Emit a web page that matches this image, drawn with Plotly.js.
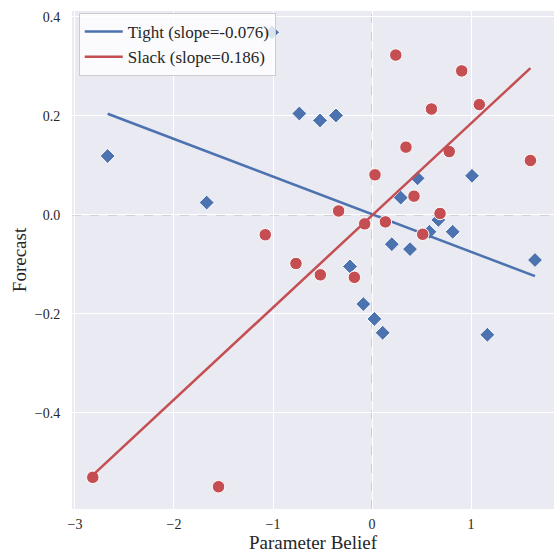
<!DOCTYPE html>
<html>
<head>
<meta charset="utf-8">
<script src="https://cdn.plot.ly/plotly-3.0.1.min.js"></script>
<style>html,body{margin:0;padding:0;background:#fff;}#chart{width:554px;height:554px;}</style>
</head>
<body>
<div id="chart"></div>
<script>
// Tight group
const tightX = [-2.67, -1.67, -1.01, -0.734, -0.525, -0.364, -0.222, -0.088, 0.024, 0.108, 0.20, 0.29, 0.384, 0.46, 0.58, 0.67, 0.815, 1.01, 1.165, 1.646];
const tightY = [0.119, 0.025, 0.369, 0.205, 0.191, 0.201, -0.104, -0.180, -0.210, -0.238, -0.059, 0.035, -0.069, 0.074, -0.034, -0.010, -0.034, 0.079, -0.242, -0.091];
// Slack group
const slackX = [-2.82, -1.55, -1.078, -0.768, -0.522, -0.337, -0.178, -0.074, 0.03, 0.135, 0.24, 0.343, 0.424, 0.512, 0.60, 0.687, 0.78, 0.906, 1.084, 1.60];
const slackY = [-0.530, -0.549, -0.040, -0.098, -0.121, 0.008, -0.126, -0.018, 0.081, -0.014, 0.323, 0.137, 0.038, -0.039, 0.214, 0.003, 0.128, 0.291, 0.223, 0.110];
// Fit parameters
const fitSlope = [-0.076, 0.186];
const fitIntercept = [0.0015, -0.001];
const groupNames = ['Tight', 'Slack'];
const xTicks = [-3, -2, -1, 0, 1];
const yTicks = [-0.4, -0.2, 0.0, 0.2, 0.4];

const colors = ['#4C72B0', '#C44E52'];
const font = 'Liberation Serif, Times New Roman, serif';

function fitLine(xs, i) {
  const lo = Math.min(...xs), hi = Math.max(...xs);
  return {x: [lo, hi], y: [fitIntercept[i] + fitSlope[i]*lo, fitIntercept[i] + fitSlope[i]*hi]};
}

const groups = [[tightX, tightY, 'diamond', 11.5], [slackX, slackY, 'circle', 12.5]];
const traces = [];
groups.forEach((g, i) => {
  traces.push({
    x: g[0], y: g[1], type: 'scatter', mode: 'markers', showlegend: false,
    marker: {symbol: g[2], size: g[3], color: colors[i], line: {color: '#ffffff', width: 1}},
    hoverinfo: 'skip'
  });
  const fl = fitLine(g[0], i);
  traces.push({
    x: fl.x, y: fl.y, type: 'scatter', mode: 'lines',
    name: groupNames[i] + ' (slope=' + fitSlope[i].toFixed(3) + ')',
    line: {color: colors[i], width: 2.5}
  });
});

const layout = {
  width: 554, height: 554,
  margin: {l: 72, r: 0, t: 11, b: 45, pad: 0},
  paper_bgcolor: '#ffffff', plot_bgcolor: '#EAEAF2',
  font: {family: font, color: '#262626'},
  xaxis: {
    range: [-3.03, 1.838], tickvals: xTicks, ticktext: xTicks.map(v => v < 0 ? '\u2212' + Math.abs(v) : String(v)),
    gridcolor: '#ffffff', gridwidth: 1, zeroline: false, showline: false,
    ticks: 'outside', ticklen: 2, tickcolor: 'rgba(0,0,0,0)',
    tickfont: {family: font, size: 14, color: '#262626'},
    title: {text: 'Parameter Belief', font: {family: font, size: 19, color: '#262626'}, standoff: 4},
    automargin: false
  },
  yaxis: {
    range: [-0.594, 0.412], tickvals: yTicks, ticktext: yTicks.map(v => v < 0 ? '\u2212' + Math.abs(v).toFixed(1) : v.toFixed(1)),
    gridcolor: '#ffffff', gridwidth: 1, zeroline: false, showline: false,
    ticks: 'outside', ticklen: 8, tickcolor: 'rgba(0,0,0,0)',
    tickfont: {family: font, size: 14, color: '#262626'},
    title: {text: 'Forecast', font: {family: font, size: 19, color: '#262626'}, standoff: 3},
    automargin: false
  },
  shapes: [
    {type: 'line', xref: 'x', yref: 'paper', x0: 0, x1: 0, y0: 0, y1: 1, layer: 'between', line: {color: '#b0b0b0', width: 1, dash: 'dash'}},
    {type: 'line', xref: 'paper', yref: 'y', x0: 0, x1: 1, y0: 0, y1: 0, layer: 'between', line: {color: '#b0b0b0', width: 1, dash: 'dash'}}
  ],
  legend: {
    x: 0.014, y: 0.996, xanchor: 'left', yanchor: 'top',
    bgcolor: 'rgba(255,255,255,0.8)', bordercolor: '#cccccc', borderwidth: 1,
    font: {family: font, size: 17, color: '#262626'}, tracegroupgap: 0,
    itemwidth: 38
  },
  showlegend: true
};

Plotly.newPlot('chart', traces, layout, {displayModeBar: false, staticPlot: true});
</script>
</body>
</html>
